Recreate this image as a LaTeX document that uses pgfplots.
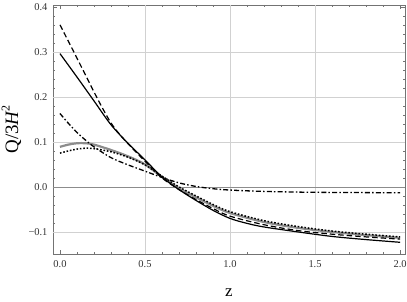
\documentclass[border=0pt]{standalone}
\usepackage{pgfplots}
\pgfplotsset{compat=1.18}
\usepackage{fontspec}
\setmainfont{Liberation Serif}
\begin{document}
\begin{tikzpicture}[x=1bp,y=1bp]
\useasboundingbox (-53,-48) rectangle (354,254);
\begin{axis}[
  at={(0,0)}, anchor=south west,
  scale only axis, width=352bp, height=249bp,
  xmin=-0.041, xmax=2.029, ymin=-0.149, ymax=0.404,
  xtick={0,0.5,1,1.5,2}, xticklabels={0.0,0.5,1.0,1.5,2.0},
  ytick={-0.1,0,0.1,0.2,0.3,0.4}, yticklabels={−0.1,0.0,0.1,0.2,0.3,0.4},
  minor x tick num=4, minor y tick num=4,
  tick align=inside,
  major tick length=4bp, minor tick length=2.2bp,
  tick style={black!55, line width=0.5pt},
  axis line style={black!55, line width=0.6pt},
  ticklabel style={font=\fontsize{10.5}{12}\selectfont, text=black!80},
  xticklabel style={yshift=-3bp},
  yticklabel style={xshift=-2bp},
  xlabel={\fontsize{17}{18}\selectfont z},
  xlabel style={at={(axis description cs:0.5,0)}, anchor=center, yshift=-39bp},
  ylabel={\fontsize{19}{20}\selectfont Q/3{\itshape H}\raisebox{0.45em}{\fontsize{12}{13}\selectfont 2}},
  ylabel style={at={(axis description cs:-0.118,0.5)}, anchor=center},
  clip=true,
]
% grid
\draw[black!18, line width=0.6pt] (axis cs:0.5,-0.149) -- (axis cs:0.5,0.404);
\draw[black!18, line width=0.6pt] (axis cs:1.0,-0.149) -- (axis cs:1.0,0.404);
\draw[black!18, line width=0.6pt] (axis cs:1.5,-0.149) -- (axis cs:1.5,0.404);
\draw[black!18, line width=0.6pt] (axis cs:-0.041,-0.1) -- (axis cs:2.029,-0.1);
\draw[black!18, line width=0.6pt] (axis cs:-0.041,0.1) -- (axis cs:2.029,0.1);
\draw[black!18, line width=0.6pt] (axis cs:-0.041,0.2) -- (axis cs:2.029,0.2);
\draw[black!18, line width=0.6pt] (axis cs:-0.041,0.3) -- (axis cs:2.029,0.3);
\draw[black!45, line width=0.8pt] (axis cs:-0.041,0) -- (axis cs:2.029,0);
% gray thick
\addplot[smooth, color=black!45, line width=2.2bp] coordinates {
(0,0.089) (0.05,0.094) (0.1,0.097) (0.15,0.097) (0.2,0.094) (0.3,0.082) (0.4,0.068) (0.5,0.050) (0.6,0.022) (0.7,-0.003) (0.8,-0.023) (0.9,-0.042) (1.0,-0.058) (1.2,-0.078) (1.4,-0.091) (1.6,-0.100) (1.8,-0.107) (2.0,-0.113)};
% dotted
\addplot[smooth, black, line width=1.5bp, dash pattern=on 1.6bp off 1.8bp] coordinates {
(0,0.075) (0.05,0.080) (0.1,0.084) (0.15,0.086) (0.2,0.085) (0.3,0.078) (0.4,0.066) (0.5,0.049) (0.6,0.024) (0.7,0.000) (0.8,-0.020) (0.9,-0.039) (1.0,-0.055) (1.2,-0.075) (1.4,-0.088) (1.6,-0.098) (1.8,-0.105) (2.0,-0.111)};
% dot-dash
\addplot[smooth, black, line width=1.3bp, dash pattern=on 5bp off 2.2bp on 1.5bp off 2.2bp] coordinates {
(0,0.163) (0.05,0.141) (0.1,0.121) (0.15,0.104) (0.2,0.089) (0.3,0.065) (0.4,0.049) (0.5,0.035) (0.6,0.021) (0.7,0.009) (0.8,0.001) (0.9,-0.004) (1.0,-0.007) (1.2,-0.010) (1.5,-0.012) (2.0,-0.013)};
% dashed
\addplot[smooth, black, line width=1.2bp, dash pattern=on 5.5bp off 3bp] coordinates {
(0,0.360) (0.1,0.286) (0.2,0.211) (0.25,0.175) (0.3,0.142) (0.35,0.117) (0.4,0.096) (0.5,0.057) (0.6,0.020) (0.7,-0.006) (0.8,-0.028) (0.9,-0.048) (1.0,-0.065) (1.2,-0.084) (1.4,-0.097) (1.6,-0.105) (1.8,-0.111) (2.0,-0.116)};
% solid
\addplot[smooth, black, line width=1.2bp] coordinates {
(0,0.296) (0.1,0.244) (0.2,0.191) (0.3,0.138) (0.4,0.097) (0.5,0.060) (0.6,0.022) (0.7,-0.006) (0.8,-0.030) (0.9,-0.052) (1.0,-0.070) (1.1,-0.081) (1.2,-0.089) (1.4,-0.100) (1.6,-0.110) (1.8,-0.117) (2.0,-0.123)};
\end{axis}
\end{tikzpicture}
\end{document}
